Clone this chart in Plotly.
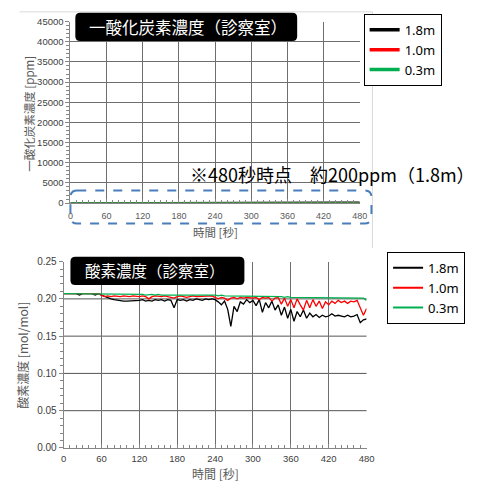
import plotly.graph_objects as go

W, H = 485, 492

# ---------------- data ----------------
SERIES = ["1.8m", "1.0m", "0.3m"]
COLORS = ["#000000", "#ff0000", "#00b050"]

T_CO = [0, 30, 60, 90, 120, 150, 180, 210, 240, 270, 300, 330, 360, 390, 420, 450, 480]
CO_18 = [0, 0, 5, 10, 10, 15, 20, 30, 40, 60, 80, 100, 120, 140, 160, 180, 200]
CO_10 = [0, 0, 0, 5, 5, 10, 10, 10, 15, 20, 20, 30, 30, 40, 40, 50, 60]
CO_03 = [0, 0, 0, 0, 0, 0, 0, 0, 0, 0, 0, 0, 0, 0, 0, 0, 0]

T_O2 = list(range(0, 481, 5))
O2_18 = [
    0.207, 0.207, 0.207, 0.207, 0.207, 0.205, 0.207, 0.207, 0.207, 0.207, 0.205, 0.207,
    0.205, 0.203, 0.201, 0.200, 0.199, 0.198, 0.197, 0.197, 0.197, 0.197, 0.198, 0.197,
    0.198, 0.199, 0.197, 0.198, 0.197, 0.199, 0.198, 0.199, 0.197, 0.199, 0.198, 0.188,
    0.199, 0.198, 0.199, 0.197, 0.199, 0.198, 0.200, 0.199, 0.198, 0.200, 0.199, 0.200,
    0.199, 0.196, 0.192, 0.197, 0.186, 0.163, 0.190, 0.183, 0.196, 0.193, 0.199, 0.195,
    0.198, 0.191, 0.199, 0.182, 0.195, 0.188, 0.197, 0.185, 0.192, 0.178, 0.189, 0.174,
    0.186, 0.170, 0.183, 0.176, 0.185, 0.174, 0.181, 0.176, 0.179, 0.175, 0.178, 0.176,
    0.177, 0.180, 0.177, 0.178, 0.177, 0.176, 0.178, 0.176, 0.177, 0.179, 0.168, 0.172,
    0.173,
]
O2_10 = [
    0.207, 0.207, 0.207, 0.207, 0.207, 0.207, 0.207, 0.207, 0.207, 0.207, 0.207, 0.207,
    0.205, 0.203, 0.204, 0.203, 0.204, 0.203, 0.203, 0.204, 0.203, 0.203, 0.204, 0.203,
    0.203, 0.204, 0.203, 0.200, 0.203, 0.204, 0.203, 0.203, 0.204, 0.203, 0.203, 0.201,
    0.203, 0.204, 0.203, 0.202, 0.203, 0.204, 0.203, 0.203, 0.204, 0.203, 0.203, 0.204,
    0.202, 0.200, 0.202, 0.201, 0.198, 0.201, 0.202, 0.200, 0.202, 0.201, 0.202, 0.201,
    0.201, 0.202, 0.199, 0.202, 0.201, 0.202, 0.197, 0.201, 0.202, 0.193, 0.201, 0.190,
    0.199, 0.188, 0.200, 0.192, 0.185, 0.198, 0.188, 0.199, 0.190, 0.197, 0.187, 0.196,
    0.192, 0.197, 0.194, 0.198, 0.195, 0.197, 0.194, 0.197, 0.196, 0.198, 0.189, 0.178,
    0.187,
]
O2_03 = [
    0.207, 0.207, 0.207, 0.207, 0.207, 0.207, 0.207, 0.207, 0.207, 0.207, 0.207, 0.207,
    0.207, 0.206, 0.206, 0.206, 0.206, 0.206, 0.206, 0.206, 0.206, 0.206, 0.206, 0.206,
    0.206, 0.206, 0.205, 0.206, 0.206, 0.205, 0.206, 0.205, 0.205, 0.206, 0.205, 0.205,
    0.205, 0.205, 0.205, 0.205, 0.205, 0.205, 0.205, 0.205, 0.205, 0.205, 0.205, 0.205,
    0.205, 0.204, 0.205, 0.204, 0.204, 0.204, 0.204, 0.204, 0.204, 0.204, 0.203, 0.204,
    0.203, 0.203, 0.203, 0.203, 0.203, 0.203, 0.203, 0.203, 0.203, 0.203, 0.202, 0.203,
    0.202, 0.202, 0.202, 0.202, 0.202, 0.202, 0.202, 0.202, 0.202, 0.202, 0.202, 0.202,
    0.202, 0.202, 0.202, 0.202, 0.202, 0.202, 0.202, 0.202, 0.202, 0.202, 0.202, 0.201,
    0.198,
]

O2_GRID = [0.05, 0.10, 0.15, 0.20]

TITLE_CO = "一酸化炭素濃度（診察室）"
TITLE_O2 = "酸素濃度（診察室）"
NOTE = "※480秒時点　約200ppm（1.8m）"
YT_CO = "一酸化炭素濃度 [ppm]"
YT_O2 = "酸素濃度 [mol/mol]"
XT = "時間 [秒]"

JP = "Noto Sans CJK JP"
NUM = "Liberation Sans"
LEG = "Noto Sans"


def X(p):
    return p / W


def Y(p):
    return 1 - p / H


def rrect(x0, y0, x1, y1, r):
    return (f"M {X(x0 + r)},{Y(y0)} L {X(x1 - r)},{Y(y0)} Q {X(x1)},{Y(y0)} {X(x1)},{Y(y0 + r)} "
            f"L {X(x1)},{Y(y1 - r)} Q {X(x1)},{Y(y1)} {X(x1 - r)},{Y(y1)} "
            f"L {X(x0 + r)},{Y(y1)} Q {X(x0)},{Y(y1)} {X(x0)},{Y(y1 - r)} "
            f"L {X(x0)},{Y(y0 + r)} Q {X(x0)},{Y(y0)} {X(x0 + r)},{Y(y0)} Z")


fig = go.Figure()

co_data = [CO_18, CO_10, CO_03]
o2_data = [O2_18, O2_10, O2_03]

for name, col, ys in zip(SERIES, COLORS, co_data):
    fig.add_trace(go.Scatter(x=T_CO, y=ys, mode="lines", line=dict(color=col, width=1.5),
                             showlegend=False, xaxis="x", yaxis="y", hoverinfo="skip"))
for name, col in zip(SERIES, COLORS):
    fig.add_trace(go.Scatter(x=[None], y=[None], mode="lines", line=dict(color=col, width=3.5),
                             name=name, legend="legend", xaxis="x", yaxis="y"))

for name, col, ys in zip(SERIES, COLORS, o2_data):
    fig.add_trace(go.Scatter(x=T_O2, y=ys, mode="lines", line=dict(color=col, width=1.3),
                             showlegend=False, xaxis="x2", yaxis="y2", hoverinfo="skip"))
for name, col in zip(SERIES, COLORS):
    fig.add_trace(go.Scatter(x=[None], y=[None], mode="lines", line=dict(color=col, width=2),
                             name=name, legend="legend2", xaxis="x2", yaxis="y2"))

GRID = "#6e6e6e"
AX = "#868686"

xcommon = dict(range=[0, 480], dtick=60, tick0=0, showgrid=True, gridcolor=GRID, gridwidth=1,
               showline=True, linecolor=AX, linewidth=1, ticks="inside", ticklen=4, tickcolor=AX,
               minor=dict(dtick=10, ticks="inside", ticklen=3, tickcolor=AX, showgrid=False),
               zeroline=False, fixedrange=True)

fig.update_layout(
    width=W, height=H, autosize=False,
    margin=dict(l=0, r=0, t=0, b=0, pad=0),
    paper_bgcolor="white", plot_bgcolor="white",
    xaxis=dict(domain=[X(69), X(365)], anchor="y", ticklabelstandoff=4,
               tickfont=dict(family=NUM, size=9, color="#595959"), **xcommon),
    yaxis=dict(domain=[Y(202), Y(16)], anchor="x", range=[0, 45000], dtick=5000, tickformat="d",
               showgrid=True, gridcolor=GRID, showline=True, linecolor=AX, zeroline=False,
               ticks="outside", ticklen=4, tickcolor=AX,
               minor=dict(dtick=1000, ticks="outside", ticklen=3, tickcolor=AX, showgrid=False),
               tickfont=dict(family=NUM, size=9.5, color="#404040"), fixedrange=True),
    xaxis2=dict(domain=[X(62), X(372)], anchor="y2", ticklabelstandoff=2,
                tickfont=dict(family=NUM, size=9.5, color="#404040"), **xcommon),
    yaxis2=dict(domain=[Y(453), Y(262)], anchor="x2", range=[0, 0.25], dtick=0.05,
                tickformat=".2f", showgrid=False, showline=True, linecolor=AX, zeroline=False,
                ticks="outside", ticklen=4, tickcolor=AX,
                minor=dict(dtick=0.01, ticks="outside", ticklen=3, tickcolor=AX, showgrid=False),
                tickfont=dict(family=NUM, size=10, color="#404040"), fixedrange=True),
    legend=dict(x=X(369), y=Y(8), xanchor="left", yanchor="top", bgcolor="white",
                bordercolor="#000000", borderwidth=1,
                font=dict(family=LEG, size=13, color="#000000"), itemwidth=30, tracegroupgap=0),
    legend2=dict(x=X(393), y=Y(252), xanchor="left", yanchor="top", bgcolor="white",
                 bordercolor="#000000", borderwidth=1,
                 font=dict(family=LEG, size=13, color="#000000"), itemwidth=30, tracegroupgap=0),
)

shapes = []
# light frame of top chart area
shapes.append(dict(type="line", xref="paper", yref="paper", x0=X(17), x1=X(378), y0=Y(6), y1=Y(6),
                   line=dict(color="#d9d9d9", width=1), layer="below"))
shapes.append(dict(type="line", xref="paper", yref="paper", x0=X(378), x1=X(378), y0=Y(6), y1=Y(248),
                   line=dict(color="#d9d9d9", width=1), layer="below"))
# horizontal grid for the oxygen chart
for g in O2_GRID:
    shapes.append(dict(type="line", xref="x2 domain", yref="y2", x0=0, x1=1, y0=g, y1=g,
                       line=dict(color="#555555", width=1), layer="below"))
# title boxes
shapes.append(dict(type="path", xref="paper", yref="paper", path=rrect(74, 7, 301, 36, 5),
                   fillcolor="#000000", line=dict(width=0)))
shapes.append(dict(type="path", xref="paper", yref="paper", path=rrect(69, 257, 247, 286, 5),
                   fillcolor="#000000", line=dict(width=0)))
# dashed highlight box
shapes.append(dict(type="path", xref="paper", yref="paper", path=rrect(69, 189, 377, 223, 7),
                   line=dict(color="#4a7ebb", width=2, dash="dash")))
fig.update_layout(shapes=shapes)

ann = []
ann.append(dict(text=TITLE_CO, x=X(189), y=Y(22), xref="paper", yref="paper", showarrow=False,
                xanchor="center", yanchor="middle", font=dict(family=JP, size=16.5, color="white")))
ann.append(dict(text=TITLE_O2, x=X(156), y=Y(271), xref="paper", yref="paper", showarrow=False,
                xanchor="center", yanchor="middle", font=dict(family=JP, size=15.5, color="white")))
ann.append(dict(text=NOTE, x=1, y=Y(172), xref="paper", yref="paper", showarrow=False,
                xanchor="right", yanchor="middle", font=dict(family=JP, size=18, color="#000000")))
ann.append(dict(text=YT_CO, x=X(27), y=Y(110), xref="paper", yref="paper", showarrow=False,
                textangle=-90, xanchor="center", yanchor="middle",
                font=dict(family=JP, size=11.5, color="#595959")))
ann.append(dict(text=YT_O2, x=X(20), y=Y(358), xref="paper", yref="paper", showarrow=False,
                textangle=-90, xanchor="center", yanchor="middle",
                font=dict(family=JP, size=12, color="#595959")))
ann.append(dict(text=XT, x=X(217), y=Y(232), xref="paper", yref="paper", showarrow=False,
                xanchor="center", yanchor="middle", font=dict(family=JP, size=11.5, color="#595959")))
ann.append(dict(text=XT, x=X(217), y=Y(479), xref="paper", yref="paper", showarrow=False,
                xanchor="center", yanchor="middle", font=dict(family=JP, size=12, color="#595959")))
fig.update_layout(annotations=ann)

fig.write_html(
    "out.html",
    config={"displayModeBar": False, "responsive": False},
    post_script=("document.documentElement.style.margin='0';document.body.style.margin='0';"
                 "document.documentElement.style.overflow='hidden';document.body.style.overflow='hidden';"),
)
